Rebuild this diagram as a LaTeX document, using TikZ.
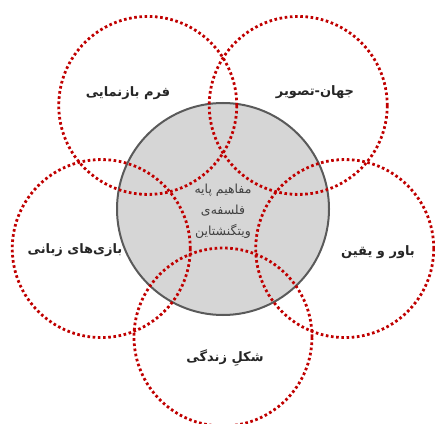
\documentclass[tikz,border=0pt]{standalone}
\usepackage{fontspec}
\newfontfamily\farsi[Script=Arabic]{DejaVu Sans}
\TeXXeTstate=1
\usepackage{tikz}
\usetikzlibrary{calc}
\definecolor{dotred}{HTML}{C00000}
\definecolor{corefill}{HTML}{D6D6D6}
\definecolor{coreline}{HTML}{5A5A5A}

\begin{document}
\begin{tikzpicture}[x=1pt, y=1pt,
  core/.style={circle, draw=coreline, fill=corefill, line width=2pt, minimum size=212pt, inner sep=0pt},
  ring/.style={circle, draw=dotred, line width=2.8pt, dash pattern=on 2.6pt off 2.6pt, minimum size=178pt, inner sep=0pt},
  lbl/.style={font=\farsi\bfseries\fontsize{13}{15}\selectfont, text=black!85},
  mid/.style={font=\farsi\fontsize{12.5}{21}\selectfont, text=black!75, align=center}
]
\useasboundingbox (0,0) rectangle (435,423);

% Core circle
\node[core] (core) at (223, 214) {};

% Dotted rings on a pentagon
\foreach \i/\a in {1/54, 2/126, 3/198, 4/270, 5/342} {
  \node[ring] (r\i) at ($(core)+(\a:128)$) {};
}

% Ring labels
\node[lbl] (l1) at (315, 331) {\beginR جهان-تصویر\endR};
\node[lbl] (l2) at (128, 330) {\beginR فرم بازنمایی\endR};
\node[lbl] (l3) at (75, 173) {\beginR بازی‌های زبانی\endR};
\node[lbl] (l4) at (225, 65) {\beginR شکلِ زندگی\endR};
\node[lbl] (l5) at (378, 171) {\beginR باور و یقین\endR};

% Core label
\node[mid] (title) at (223, 212) {\beginR مفاهیم پایه\endR\\ \beginR فلسفه‌ی\endR\\ \beginR ویتگنشتاین\endR};
\end{tikzpicture}
\end{document}
